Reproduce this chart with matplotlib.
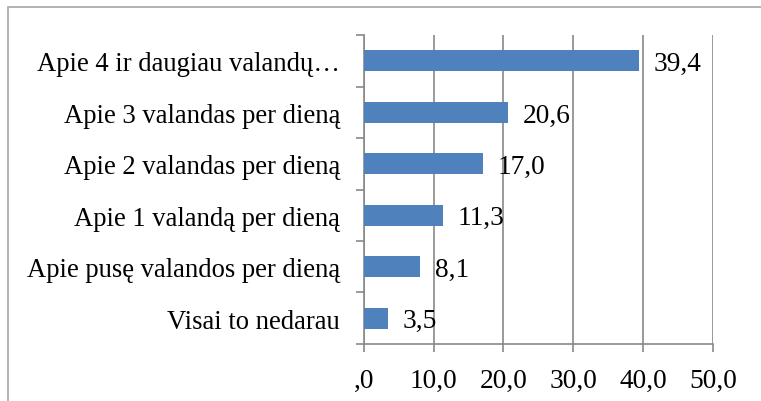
import matplotlib.pyplot as plt
from matplotlib.patches import Rectangle

categories = [
    'Visai to nedarau',
    'Apie pusę valandos per dieną',
    'Apie 1 valandą per dieną',
    'Apie 2 valandas per dieną',
    'Apie 3 valandas per dieną',
    'Apie 4 ir daugiau valandų…',
]
values = [3.5, 8.1, 11.3, 17.0, 20.6, 39.4]
x_ticks = [0, 10, 20, 30, 40, 50]
x_tick_labels = [',0', '10,0', '20,0', '30,0', '40,0', '50,0']

plt.rcParams['font.family'] = ['Liberation Serif', 'DejaVu Serif']
GREY = '#898989'
FS = 19.2

fig = plt.figure(figsize=(7.61, 4.02), dpi=100)
ax = fig.add_axes([0.478, 0.142, 0.459, 0.768])

# outer chart frame (right/bottom edges fall outside the image)
fig.patches.append(Rectangle((8 / 761, -0.1), 1.2, 1 - 8 / 402 + 0.1,
                             transform=fig.transFigure, fill=False,
                             edgecolor='#a6a6a6', linewidth=1.2))

pos = list(range(len(categories)))
ax.barh(pos, values, height=0.41, color='#4F81BD', zorder=3)
for p, v in zip(pos, values):
    ax.text(v + 2.1, p - 0.05, f'{v:.1f}'.replace('.', ','), va='center',
            ha='left', fontsize=FS + 0.5, zorder=4)

ax.set_xlim(0, 50)
ax.set_ylim(-0.5, len(categories) - 0.5)
ax.set_xticks(x_ticks)
ax.set_xticklabels(x_tick_labels, fontsize=FS + 0.5)
ax.set_yticks([p - 0.5 for p in pos] + [len(pos) - 0.5])
ax.set_yticklabels([])
ax.set_yticks(pos, minor=True)
ax.set_yticklabels(categories, minor=True, fontsize=FS)
ax.tick_params(axis='y', which='minor', length=0, pad=17)
ax.tick_params(axis='y', which='major', length=6, color=GREY, width=1.2)
ax.tick_params(axis='x', length=6, color=GREY, width=1.2, pad=11)

ax.grid(axis='x', color=GREY, linewidth=1.2, zorder=0)
for side in ['top', 'right']:
    ax.spines[side].set_visible(False)
for side in ['left', 'bottom']:
    ax.spines[side].set_color(GREY)
    ax.spines[side].set_linewidth(1.2)

fig.savefig('out.png', dpi=100)
